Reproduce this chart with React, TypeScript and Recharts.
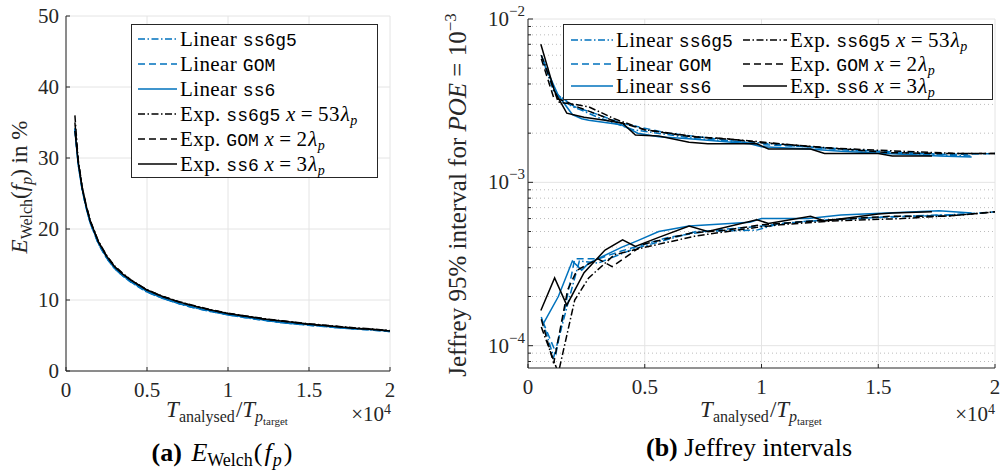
import { LineChart, Line, XAxis, YAxis, CartesianGrid, ReferenceLine, Legend } from "recharts"

const BLUE = "#0072bd"
const INK = "#262626"
const GRID = "#e4e4e4"
const MINOR = "#bcbcbc"
const SERIF = "'Liberation Serif', 'Times New Roman', serif"
const MONO = "'Liberation Mono', 'DejaVu Sans Mono', monospace"
const DASHDOT = "7 2.5 1.5 2.5"
const DASHED = "7 4"

// (a) E_Welch(f_p) in %, x in units of 1e4
const welchX = [0.055, 0.075, 0.1, 0.125, 0.15, 0.2, 0.25, 0.3, 0.35, 0.4, 0.5, 0.6, 0.7, 0.8, 0.9, 1.0, 1.1, 1.2, 1.3, 1.4, 1.5, 1.6, 1.7, 1.8, 1.9, 2.0]
const welchLinSs6g5 = [34.0, 29.1, 25.5, 22.9, 20.8, 17.9, 15.9, 14.4, 13.4, 12.5, 11.1, 10.2, 9.45, 8.85, 8.35, 7.9, 7.55, 7.2, 6.9, 6.65, 6.45, 6.25, 6.05, 5.9, 5.75, 5.55]
const welchLinGom = [34.1, 29.2, 25.5, 22.9, 20.8, 17.9, 15.95, 14.45, 13.4, 12.55, 11.15, 10.2, 9.45, 8.85, 8.35, 7.9, 7.55, 7.2, 6.9, 6.65, 6.45, 6.25, 6.05, 5.9, 5.75, 5.55]
const welchLinSs6 = [34.2, 29.3, 25.6, 23.0, 20.9, 18.0, 16.0, 14.5, 13.45, 12.6, 11.2, 10.25, 9.5, 8.9, 8.4, 7.95, 7.6, 7.25, 6.95, 6.7, 6.5, 6.3, 6.1, 5.95, 5.8, 5.6]
const welchExpSs6g5 = [36.0, 29.8, 25.9, 23.3, 21.2, 18.3, 16.3, 14.8, 13.75, 12.85, 11.45, 10.5, 9.75, 9.15, 8.6, 8.15, 7.8, 7.45, 7.15, 6.9, 6.65, 6.45, 6.25, 6.05, 5.9, 5.7]
const welchExpGom = [35.0, 29.6, 25.8, 23.2, 21.1, 18.2, 16.2, 14.7, 13.7, 12.8, 11.4, 10.45, 9.7, 9.1, 8.55, 8.1, 7.75, 7.4, 7.1, 6.85, 6.6, 6.4, 6.2, 6.0, 5.85, 5.65]
const welchExpSs6 = [33.8, 29.5, 25.8, 23.2, 21.1, 18.2, 16.2, 14.7, 13.65, 12.8, 11.4, 10.45, 9.7, 9.1, 8.55, 8.1, 7.75, 7.4, 7.1, 6.85, 6.6, 6.4, 6.2, 6.0, 5.85, 5.65]

// (b) Jeffrey 95% interval bounds
const jLinSs6g5X = [0.057, 0.11, 0.19, 0.22, 0.3, 0.45, 0.72, 0.98, 1.08, 1.3, 1.6, 1.9]
const jLinSs6g5Hi = [6.0e-3, 3.6e-3, 2.9e-3, 2.8e-3, 2.5e-3, 2.1e-3, 1.85e-3, 1.75e-3, 1.7e-3, 1.6e-3, 1.5e-3, 1.45e-3]
const jLinSs6g5Lo = [1.5e-4, 8.5e-5, 2.3e-4, 3.3e-4, 3.2e-4, 3.9e-4, 5.0e-4, 5.1e-4, 5.6e-4, 5.9e-4, 6.2e-4, 6.4e-4]

const jLinGomX = [0.064, 0.12, 0.2, 0.3, 0.4, 0.6, 0.8, 1.0, 1.2, 1.5, 1.8, 2.0]
const jLinGomHi = [5.7e-3, 3.5e-3, 2.9e-3, 2.6e-3, 2.3e-3, 2.0e-3, 1.85e-3, 1.7e-3, 1.65e-3, 1.55e-3, 1.48e-3, 1.5e-3]
const jLinGomLo = [1.4e-4, 9.0e-5, 3.4e-4, 3.4e-4, 3.8e-4, 4.6e-4, 5.1e-4, 5.4e-4, 5.8e-4, 6.1e-4, 6.3e-4, 6.6e-4]

const jLinSs6X = [0.064, 0.13, 0.19, 0.23, 0.26, 0.4, 0.47, 0.56, 0.69, 0.95, 1.0, 1.2, 1.34, 1.76, 1.9]
const jLinSs6Hi = [5.5e-3, 3.4e-3, 2.6e-3, 2.45e-3, 2.4e-3, 2.25e-3, 2.0e-3, 1.9e-3, 1.85e-3, 1.72e-3, 1.65e-3, 1.6e-3, 1.55e-3, 1.45e-3, 1.43e-3]
const jLinSs6Lo = [1.35e-4, 2.0e-4, 3.3e-4, 2.9e-4, 3.2e-4, 4.0e-4, 4.4e-4, 5.0e-4, 5.4e-4, 5.7e-4, 6.0e-4, 6.0e-4, 6.3e-4, 6.7e-4, 6.5e-4]

const jExpSs6g5X = [0.057, 0.13, 0.2, 0.26, 0.37, 0.5, 0.72, 0.98, 1.08, 1.3, 1.6, 1.85, 2.0]
const jExpSs6g5Hi = [6.0e-3, 3.1e-3, 3.0e-3, 2.9e-3, 2.45e-3, 2.1e-3, 1.9e-3, 1.78e-3, 1.72e-3, 1.62e-3, 1.55e-3, 1.5e-3, 1.5e-3]
const jExpSs6g5Lo = [1.3e-4, 6.8e-5, 1.9e-4, 2.6e-4, 3.6e-4, 4.0e-4, 4.7e-4, 5.3e-4, 5.5e-4, 5.8e-4, 6.0e-4, 6.3e-4, 6.6e-4]

const jExpGomX = [0.057, 0.11, 0.17, 0.21, 0.3, 0.36, 0.5, 0.7, 0.85, 1.0, 1.3, 1.55, 1.79, 2.0]
const jExpGomHi = [5.7e-3, 3.3e-3, 3.1e-3, 2.9e-3, 2.6e-3, 2.4e-3, 2.1e-3, 1.9e-3, 1.85e-3, 1.75e-3, 1.62e-3, 1.52e-3, 1.5e-3, 1.5e-3]
const jExpGomLo = [1.45e-4, 7.8e-5, 2.2e-4, 2.9e-4, 3.4e-4, 3.05e-4, 4.2e-4, 4.9e-4, 5.1e-4, 5.5e-4, 5.9e-4, 6.2e-4, 6.2e-4, 6.6e-4]

const jExpSs6X = [0.055, 0.114, 0.166, 0.24, 0.33, 0.405, 0.46, 0.56, 0.69, 0.77, 0.98, 1.03, 1.21, 1.27, 1.5, 1.56, 1.73]
const jExpSs6Hi = [7.0e-3, 3.6e-3, 2.65e-3, 2.5e-3, 2.4e-3, 2.3e-3, 1.95e-3, 1.92e-3, 1.76e-3, 1.72e-3, 1.72e-3, 1.6e-3, 1.6e-3, 1.5e-3, 1.5e-3, 1.45e-3, 1.45e-3]
const jExpSs6Lo = [1.64e-4, 2.6e-4, 1.77e-4, 2.8e-4, 3.85e-4, 4.45e-4, 4.05e-4, 4.6e-4, 5.4e-4, 5.0e-4, 5.9e-4, 5.6e-4, 6.2e-4, 5.8e-4, 6.4e-4, 6.5e-4, 6.6e-4]

const xTicks = [0, 0.5, 1, 1.5, 2]
const welchTicks = [0, 10, 20, 30, 40, 50]
const logTicks = [8e-5, 9e-5, 1e-4, 2e-4, 3e-4, 4e-4, 5e-4, 6e-4, 7e-4, 8e-4, 9e-4, 1e-3, 2e-3, 3e-3, 4e-3, 5e-3, 6e-3, 7e-3, 8e-3, 9e-3, 1e-2]

const models = ["ss6g5", "GOM", "ss6"]
const probeX = ["53", "2", "3"]

const welchData = welchX.map((x, i) => ({
  x,
  linSs6g5: welchLinSs6g5[i],
  linGom: welchLinGom[i],
  linSs6: welchLinSs6[i],
  expSs6g5: welchExpSs6g5[i],
  expGom: welchExpGom[i],
  expSs6: welchExpSs6[i],
}))

const pts = (xs: number[], ys: number[]) => xs.map((x, i) => ({ x, y: ys[i] }))

const jeffrey = [
  { key: "linSs6g5", color: BLUE, dash: DASHDOT, x: jLinSs6g5X, hi: jLinSs6g5Hi, lo: jLinSs6g5Lo },
  { key: "linGom", color: BLUE, dash: DASHED, x: jLinGomX, hi: jLinGomHi, lo: jLinGomLo },
  { key: "linSs6", color: BLUE, dash: undefined, x: jLinSs6X, hi: jLinSs6Hi, lo: jLinSs6Lo },
  { key: "expSs6g5", color: "#000", dash: DASHDOT, x: jExpSs6g5X, hi: jExpSs6g5Hi, lo: jExpSs6g5Lo },
  { key: "expGom", color: "#000", dash: DASHED, x: jExpGomX, hi: jExpGomHi, lo: jExpGomLo },
  { key: "expSs6", color: "#000", dash: undefined, x: jExpSs6X, hi: jExpSs6Hi, lo: jExpSs6Lo },
]

const styles = [
  { color: BLUE, dash: DASHDOT },
  { color: BLUE, dash: DASHED },
  { color: BLUE, dash: undefined },
  { color: "#000", dash: DASHDOT },
  { color: "#000", dash: DASHED },
  { color: "#000", dash: undefined },
]

function EntryText({ i }: { i: number }) {
  const m = models[i % 3]
  if (i < 3) {
    return (
      <>
        Linear <span style={{ fontFamily: MONO, fontSize: 18, letterSpacing: 0 }}>{m}</span>
      </>
    )
  }
  return (
    <>
      Exp. <span style={{ fontFamily: MONO, fontSize: 18, letterSpacing: 0 }}>{m}</span> <i>x</i>
      <span style={{ margin: "0 5px" }}>=</span>
      {probeX[i % 3]}
      <i style={{ marginLeft: 1 }}>λ</i>
      <i style={{ fontSize: 14, verticalAlign: "-0.3em", lineHeight: 0 }}>p</i>
    </>
  )
}

function Entry({ i, top, left, len }: { i: number; top: number; left: number; len: number }) {
  const s = styles[i]
  return (
    <div style={{ position: "absolute", top: top - 11, left, height: 22, display: "flex", alignItems: "center", whiteSpace: "nowrap" }}>
      <svg width={len} height={22} style={{ marginRight: 3 }}>
        <line x1={0} x2={len} y1={11} y2={11} stroke={s.color} strokeWidth={1.5} strokeDasharray={s.dash} />
      </svg>
      <span style={{ fontFamily: SERIF, fontSize: 21, lineHeight: 1, letterSpacing: 0.4, color: "#000" }}>
        <EntryText i={i} />
      </span>
    </div>
  )
}

function LegendA() {
  const rows = [14, 39, 64, 89, 114, 139]
  return (
    <div style={{ position: "relative", width: 245, height: 152, background: "#fff", border: `1px solid ${INK}` }}>
      {rows.map((r, i) => (
        <Entry key={i} i={i} top={r} left={6} len={39} />
      ))}
    </div>
  )
}

function LegendB() {
  const rows = [15, 39, 61]
  return (
    <div style={{ position: "relative", width: 428, height: 74, background: "#fff", border: `1px solid ${INK}` }}>
      {rows.map((r, i) => (
        <Entry key={"a" + i} i={i} top={r} left={7} len={42} />
      ))}
      {rows.map((r, i) => (
        <Entry key={"b" + i} i={i + 3} top={r} left={179} len={44} />
      ))}
    </div>
  )
}

function LinYTick({ x, y, payload }: any) {
  return (
    <g>
      <line x1={x} x2={x + 4} y1={y} y2={y} stroke={INK} />
      <text x={x - 7} y={y + 7} textAnchor="end" fontSize={21} fontFamily={SERIF} fill={INK}>
        {payload.value}
      </text>
    </g>
  )
}

function XTick({ x, y, payload }: any) {
  return (
    <g>
      <line x1={x} x2={x} y1={y} y2={y - 4} stroke={INK} />
      <text x={x} y={y + 26} textAnchor="middle" fontSize={21} fontFamily={SERIF} fill={INK}>
        {payload.value}
      </text>
    </g>
  )
}

function LogYTick({ x, y, payload }: any) {
  const v = payload.value
  const e = Math.round(Math.log10(v))
  const major = Math.abs(Math.log10(v) - e) < 1e-6
  if (!major) return <line x1={x} x2={x + 3} y1={y} y2={y} stroke={INK} />
  return (
    <g>
      <line x1={x} x2={x + 5} y1={y} y2={y} stroke={INK} />
      <text x={x - 3} y={y + 7} textAnchor="end" fontSize={21} fontFamily={SERIF} fill={INK}>
        10
        <tspan dy={-10} fontSize={15}>
          {"\u2212" + -e}
        </tspan>
      </text>
    </g>
  )
}

function XTitle({ cx, y }: { cx: number; y: number }) {
  return (
    <text x={cx} y={y} textAnchor="middle" fontSize={23} fill={INK}>
      <tspan fontStyle="italic">T</tspan>
      <tspan fontSize={16} dy={5}>analysed</tspan>
      <tspan dy={-5} dx={1}>/</tspan>
      <tspan fontStyle="italic">T</tspan>
      <tspan fontStyle="italic" fontSize={16} dy={5}>p</tspan>
      <tspan fontSize={11} dy={3}>target</tspan>
    </text>
  )
}

function Multiplier({ right, y }: { right: number; y: number }) {
  return (
    <text x={right} y={y} textAnchor="end" fontSize={21} fill={INK}>
      ×10<tspan dy={-7} fontSize={14}>4</tspan>
    </text>
  )
}

export default function App() {
  return (
    <div style={{ position: "absolute", left: 0, top: 0, width: 1001, height: 476, background: "#fff" }}>
      <LineChart
        width={420}
        height={476}
        data={welchData}
        margin={{ top: 16, right: 30, bottom: 75, left: 6 }}
        style={{ position: "absolute", left: 0, top: 0 }}
      >
        <CartesianGrid stroke={GRID} />
        <XAxis
          dataKey="x"
          type="number"
          domain={[0, 2]}
          ticks={xTicks}
          interval={0}
          tickSize={0}
          tickMargin={0}
          height={30}
          stroke={INK}
          tick={<XTick />}
        />
        <YAxis
          type="number"
          domain={[0, 50]}
          ticks={welchTicks}
          interval={0}
          tickSize={0}
          tickMargin={0}
          width={60}
          stroke={INK}
          tick={<LinYTick />}
        />
        <Legend
          layout="vertical"
          align="center"
          verticalAlign="middle"
          content={() => <LegendA />}
          wrapperStyle={{ left: 131, top: 24, width: 247, height: 154 }}
        />
        {["linSs6g5", "linGom", "linSs6", "expSs6g5", "expGom", "expSs6"].map((k, i) => (
          <Line
            key={k}
            dataKey={k}
            type="linear"
            dot={false}
            stroke={styles[i].color}
            strokeDasharray={styles[i].dash}
            strokeWidth={1.5}
            isAnimationActive={false}
            legendType="none"
          />
        ))}
      </LineChart>

      <LineChart
        width={581}
        height={476}
        margin={{ top: 19, right: 6, bottom: 78, left: 48 }}
        style={{ position: "absolute", left: 420, top: 0 }}
      >
        <CartesianGrid stroke={GRID} horizontal={false} />
        {logTicks.map((t) => {
          const major = Math.abs(Math.log10(t) - Math.round(Math.log10(t))) < 1e-6
          return (
            <ReferenceLine
              key={t}
              y={t}
              stroke={major ? GRID : MINOR}
              strokeDasharray={major ? undefined : "1 3"}
            />
          )
        })}
        <XAxis
          dataKey="x"
          type="number"
          domain={[0, 2]}
          ticks={xTicks}
          interval={0}
          tickSize={0}
          tickMargin={0}
          height={30}
          stroke={INK}
          allowDataOverflow
          tick={<XTick />}
        />
        <YAxis
          type="number"
          scale="log"
          domain={[7.3e-5, 1e-2]}
          ticks={logTicks}
          interval={0}
          tickSize={0}
          tickMargin={0}
          width={60}
          stroke={INK}
          allowDataOverflow
          tick={<LogYTick />}
        />
        <Legend
          layout="vertical"
          align="center"
          verticalAlign="middle"
          content={() => <LegendB />}
          wrapperStyle={{ left: 143, top: 24, width: 430, height: 76 }}
        />
        {jeffrey.map((s) => [
          <Line
            key={s.key + "hi"}
            data={pts(s.x, s.hi)}
            dataKey="y"
            type="linear"
            dot={false}
            stroke={s.color}
            strokeDasharray={s.dash}
            strokeWidth={1.5}
            isAnimationActive={false}
            legendType="none"
          />,
          <Line
            key={s.key + "lo"}
            data={pts(s.x, s.lo)}
            dataKey="y"
            type="linear"
            dot={false}
            stroke={s.color}
            strokeDasharray={s.dash}
            strokeWidth={1.5}
            isAnimationActive={false}
            legendType="none"
          />,
        ])}
      </LineChart>

      <svg
        width={1001}
        height={476}
        style={{ position: "absolute", left: 0, top: 0, pointerEvents: "none" }}
        fontFamily={SERIF}
      >
        <text transform="translate(27,187) rotate(-90)" textAnchor="middle" fontSize={23} fill={INK}>
          <tspan fontStyle="italic">E</tspan>
          <tspan fontSize={16} dy={5}>Welch</tspan>
          <tspan dy={-5}>(</tspan>
          <tspan fontStyle="italic">f</tspan>
          <tspan fontStyle="italic" fontSize={16} dy={5}>p</tspan>
          <tspan dy={-5}>) in %</tspan>
        </text>
        <text transform="translate(466,195) rotate(-90)" textAnchor="middle" fontSize={25} fill={INK}>
          Jeffrey 95% interval for <tspan fontStyle="italic">POE</tspan> = 10
          <tspan dy={-10} fontSize={17}>−3</tspan>
        </text>

        <XTitle cx={227} y={417} />
        <XTitle cx={761} y={417} />
        <Multiplier right={391} y={421} />
        <Multiplier right={995} y={421} />

        <text x={222} y={461} textAnchor="middle" fontSize={26} fill="#000">
          <tspan fontWeight="bold">(a)</tspan> <tspan fontStyle="italic" dx={3}>E</tspan>
          <tspan fontSize={18} dy={5}>Welch</tspan>
          <tspan dy={-5} dx={1}>(</tspan>
          <tspan fontStyle="italic" dx={2}>f</tspan>
          <tspan fontStyle="italic" fontSize={18} dy={5} dx={1}>p</tspan>
          <tspan dy={-5} dx={2}>)</tspan>
        </text>
        <text x={749} y={456} textAnchor="middle" fontSize={26} fill="#000">
          <tspan fontWeight="bold">(b)</tspan> Jeffrey intervals
        </text>
      </svg>
    </div>
  )
}
